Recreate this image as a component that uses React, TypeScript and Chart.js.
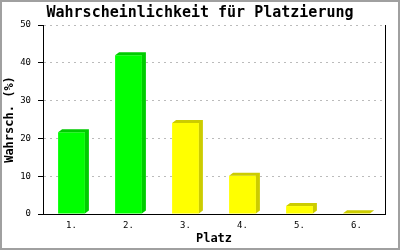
import React, { useEffect, useRef } from "react";
import { Chart, registerables } from "chart.js";

Chart.register(...registerables);

const categories = ["1.", "2.", "3.", "4.", "5.", "6."];
const probabilities = [21.6, 42.0, 24.1, 10.1, 2.1, 0.2];
const yTicks = [0, 10, 20, 30, 40, 50];
const titleText = "Wahrscheinlichkeit für Platzierung";
const xTitle = "Platz";
const yTitle = "Wahrsch. (%)";

const frontColors = ["#00ff00", "#00ff00", "#ffff00", "#ffff00", "#ffff00", "#ffff00"];
const sideColors = ["#00cc00", "#00cc00", "#cccc00", "#cccc00", "#cccc00", "#cccc00"];

const MONO = "'DejaVu Sans Mono', 'Liberation Mono', monospace";

const bar3d = {
  id: "bar3d",
  afterDatasetsDraw(chart: any) {
    const ctx = chart.ctx;
    const meta = chart.getDatasetMeta(0);
    const d = 4;
    const h = 3;
    meta.data.forEach((bar: any, i: number) => {
      const { x, y, base, width } = bar.getProps(["x", "y", "base", "width"], true);
      const l = x - width / 2;
      const r = x + width / 2;
      ctx.save();
      ctx.fillStyle = sideColors[i % sideColors.length];
      ctx.beginPath();
      ctx.moveTo(l, y);
      ctx.lineTo(l + d, y - h);
      ctx.lineTo(r + d, y - h);
      ctx.lineTo(r + d, base - h);
      ctx.lineTo(r, base);
      ctx.lineTo(r, y);
      ctx.closePath();
      ctx.fill();
      ctx.restore();
    });
  },
};

const frame = {
  id: "frame",
  beforeDraw(chart: any) {
    const ctx = chart.ctx;
    ctx.save();
    ctx.fillStyle = "#ffffff";
    ctx.fillRect(0, 0, chart.width, chart.height);
    ctx.restore();
  },
  afterDraw(chart: any) {
    const ctx = chart.ctx;
    ctx.save();
    ctx.strokeStyle = "#a0a0a0";
    ctx.lineWidth = 2;
    ctx.strokeRect(1, 1, chart.width - 2, chart.height - 2);
    ctx.restore();
  },
};

export default function App() {
  const ref = useRef<HTMLCanvasElement | null>(null);
  useEffect(() => {
    if (!ref.current) return;
    const chart = new Chart(ref.current, {
      type: "bar",
      data: {
        labels: categories,
        datasets: [
          {
            data: probabilities,
            backgroundColor: frontColors,
            borderWidth: 0,
            barPercentage: 0.47,
            categoryPercentage: 1,
          },
        ],
      },
      options: {
        animation: false,
        responsive: false,
        layout: { padding: { left: 0, right: 0, top: 0, bottom: 0 } },
        plugins: {
          legend: { display: false },
          tooltip: { enabled: false },
          title: {
            display: true,
            text: titleText,
            color: "#000000",
            font: { family: MONO, size: 15, weight: "bold", lineHeight: 1.2 },
            padding: { top: 4, bottom: 3 },
          },
        },
        scales: {
          x: {
            grid: { display: false, drawTicks: false, tickLength: 0 },
            border: { display: true, color: "#000000", width: 1 },
            ticks: {
              color: "#000000",
              font: { family: MONO, size: 9 },
              padding: 6,
            },
            title: {
              display: true,
              text: xTitle,
              color: "#000000",
              font: { family: MONO, size: 12, weight: "bold", lineHeight: 1.2 },
              padding: { top: 0, bottom: 4 },
            },
            afterFit: (s: any) => {
              s.height = 36;
            },
          },
          y: {
            min: 0,
            max: 50,
            afterBuildTicks: (s: any) => {
              s.ticks = yTicks.map((v) => ({ value: v }));
            },
            grid: {
              color: (c: any) => (c.tick && c.tick.value === 0 ? "rgba(0,0,0,0)" : "#bbbbbb"),
              tickColor: "#000000",
              tickLength: 5,
              lineWidth: 1,
            },
            border: { display: true, color: "#000000", width: 1, dash: [2, 4] },
            ticks: {
              color: "#000000",
              font: { family: MONO, size: 9 },
              padding: 7,
            },
            title: {
              display: true,
              text: yTitle,
              color: "#000000",
              font: { family: MONO, size: 12, weight: "bold", lineHeight: 1.2 },
              padding: { top: 3, bottom: 0 },
            },
            afterFit: (s: any) => {
              s.width = 43;
            },
          },
          y2: {
            position: "right",
            min: 0,
            max: 50,
            grid: { display: false, drawTicks: false, drawOnChartArea: false },
            border: { display: true, color: "#000000", width: 1 },
            ticks: { display: false },
            afterFit: (s: any) => {
              s.width = 15;
            },
          },
        },
      },
      plugins: [bar3d, frame],
    } as any);
    return () => chart.destroy();
  }, []);
  return (
    <div style={{ position: "absolute", left: 0, top: 0, width: 400, height: 250 }}>
      <canvas ref={ref} width={400} height={250} style={{ display: "block" }} />
    </div>
  );
}
